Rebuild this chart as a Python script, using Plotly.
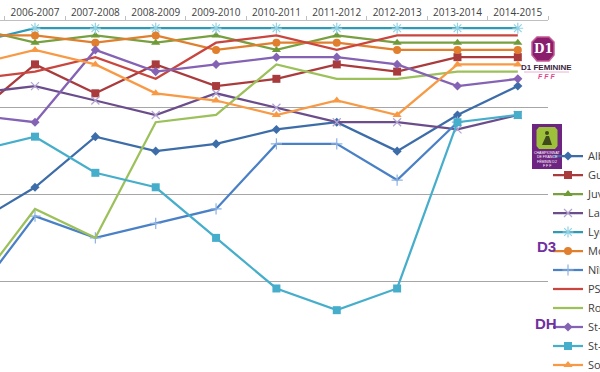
import plotly.graph_objects as go

# ---------------- data ----------------
seasons = ["2005-2006", "2006-2007", "2007-2008", "2008-2009", "2009-2010",
           "2010-2011", "2011-2012", "2012-2013", "2013-2014", "2014-2015"]

albi        = [28, 23, 16, 18, 17, 15, 14, 18, 13, 9]
guingamp    = [13, 6, 10, 6, 9, 8, 6, 7, 5, 5]
juvisy      = [1, 3, 2, 3, 2, 4, 2, 3, 3, 3]
la_roche    = [10, 9, 11, 13, 10, 12, 14, 14, 15, 13]
lyon        = [3, 1, 1, 1, 1, 1, 1, 1, 1, 1]
montpellier = [2, 2, 3, 2, 4, 3, 3, 4, 4, 4]
nimes       = [38, 27, 30, 28, 26, 17, 17, 22, 14, None]
psg         = [8, 7, 5, 8, 3, 2, 4, 2, 2, 2]
rodez       = [37, 26, 30, 14, 13, 6, 8, 8, 7, 7]
st_etienne  = [13, 14, 4, 7, 6, 5, 5, 6, 9, 8]
st_maur     = [18, 16, 21, 23, 30, 37, 40, 37, 14, 13]
soyaux      = [6, 4, 6, 10, 11, 13, 11, 13, 6, 6]

names = ["Albi", "Guingamp", "Juvisy", "La Roche-sur-Yon", "Lyon", "Montpellier",
         "Nîmes", "PSG", "Rodez", "St-Etienne", "St-Maur", "Soyaux"]
series = [albi, guingamp, juvisy, la_roche, lyon, montpellier,
          nimes, psg, rodez, st_etienne, st_maur, soyaux]

# ---------------- styles ----------------
styles = [
    dict(line="#3D6DA9", symbol="diamond", mcolor="#3D6DA9", size=7),
    dict(line="#A93B3D", symbol="square", mcolor="#A93B3D", size=8),
    dict(line="#78A040", symbol="triangle-up", mcolor="#6E9A38", size=8),
    dict(line="#6B4D8C", symbol="x-thin-open", mcolor="#B1A3D0", size=8),
    dict(line="#2F9AB6", symbol="asterisk-open", mcolor="#92D2E4", size=9),
    dict(line="#E07F2E", symbol="circle", mcolor="#E07F2E", size=8),
    dict(line="#4A80C6", symbol="cross-thin-open", mcolor="#8DB2E2", size=8),
    dict(line="#C9463F", symbol=None, mcolor=None, size=0),
    dict(line="#9CC15B", symbol=None, mcolor=None, size=0),
    dict(line="#8462B4", symbol="diamond", mcolor="#8462B4", size=7),
    dict(line="#46AECB", symbol="square", mcolor="#46AECB", size=8),
    dict(line="#F89A45", symbol="triangle-up", mcolor="#F89A45", size=8),
]

fig = go.Figure()
for name, vals, st in zip(names, series, styles):
    if st["symbol"] is None:
        fig.add_trace(go.Scatter(x=seasons, y=vals, name=name, mode="lines",
                                 line=dict(color=st["line"], width=2.25)))
    else:
        open_sym = st["symbol"].endswith("open")
        fig.add_trace(go.Scatter(
            x=seasons, y=vals, name=name, mode="lines+markers",
            line=dict(color=st["line"], width=2.25),
            marker=dict(symbol=st["symbol"], size=st["size"], color=st["mcolor"],
                        line=dict(color=st["mcolor"], width=1.2 if open_sym else 0))))

W, H = 600, 372
ML, MR, MT, MB = 0, 52, 21, 4
PW, PH = W - ML - MR, H - MT - MB


def px(x):
    return (x - ML) / PW


def py(y):
    return 1 - (y - MT) / PH


shapes = []
annotations = []

# D1 logo
pts = [(537, 37), (549, 37), (554, 42), (554, 55), (549, 61), (537, 61), (532, 55), (532, 42)]
path = "M " + " L ".join(f"{px(a):.5f},{py(b):.5f}" for a, b in pts) + " Z"
shapes.append(dict(type="path", xref="paper", yref="paper", path=path,
                   fillcolor="#8A1D6C", line=dict(color="#C45A95", width=1.5), layer="above"))
annotations.append(dict(x=px(543), y=py(49), xref="paper", yref="paper", text="<b>D1</b>",
                        showarrow=False, font=dict(family="DejaVu Serif", size=12, color="white"),
                        xanchor="center", yanchor="middle"))
annotations.append(dict(x=px(546), y=py(67.5), xref="paper", yref="paper", text="<b>D1 FEMININE</b>",
                        showarrow=False, font=dict(family="Liberation Sans Narrow, Liberation Sans", size=8, color="#3A2340"),
                        xanchor="center", yanchor="middle"))
shapes.append(dict(type="line", xref="paper", yref="paper", x0=px(524), x1=px(569), y0=py(72), y1=py(72),
                   line=dict(color="#E7A0C4", width=0.8), layer="above"))
annotations.append(dict(x=px(546), y=py(77), xref="paper", yref="paper", text="<i><b>F F F</b></i>",
                        showarrow=False, font=dict(family="Liberation Sans", size=7, color="#E0468A"),
                        xanchor="center", yanchor="middle"))

# D2 logo
shapes.append(dict(type="rect", xref="paper", yref="paper", x0=px(532), x1=px(562), y0=py(124), y1=py(169),
                   fillcolor="#6E2481", line=dict(width=0), layer="above"))
pts2 = [(539, 127), (555, 127), (557.5, 130), (557.5, 146), (555, 149), (539, 149), (536.5, 146), (536.5, 130)]
path2 = "M " + " L ".join(f"{px(a):.5f},{py(b):.5f}" for a, b in pts2) + " Z"
shapes.append(dict(type="path", xref="paper", yref="paper", path=path2,
                   fillcolor="#9DC13A", line=dict(width=0), layer="above"))
shapes.append(dict(type="circle", xref="paper", yref="paper", x0=px(545), x1=px(549), y0=py(131), y1=py(135),
                   fillcolor="#3E4A1E", line=dict(width=0), layer="above"))
shapes.append(dict(type="path", xref="paper", yref="paper",
                   path=f"M {px(546):.5f},{py(136):.5f} L {px(549):.5f},{py(136):.5f} L {px(552):.5f},{py(145):.5f} L {px(542):.5f},{py(145):.5f} Z",
                   fillcolor="#3E4A1E", line=dict(width=0), layer="above"))
for i, t in enumerate(["CHAMPIONNAT", "DE FRANCE", "FÉMININ D2", "F F F"]):
    annotations.append(dict(x=px(547), y=py(153 + i * 4.2), xref="paper", yref="paper", text=t,
                            showarrow=False, font=dict(family="Liberation Sans", size=3.5, color="white"),
                            xanchor="center", yanchor="middle"))

# D3 / DH labels
for t, yy in [("D3", 246), ("DH", 323)]:
    annotations.append(dict(x=px(546), y=py(yy), xref="paper", yref="paper", text=f"<b>{t}</b>",
                            showarrow=False, font=dict(family="Liberation Sans", size=15, color="#7030A0"),
                            xanchor="center", yanchor="middle"))

fig.update_layout(
    width=W, height=H,
    margin=dict(l=ML, r=MR, t=MT, b=MB, pad=0, autoexpand=False),
    paper_bgcolor="white", plot_bgcolor="white",
    showlegend=True,
    legend=dict(xref="container", yref="container", x=548 / W, y=1 - 141.5 / H,
                xanchor="left", yanchor="top", bgcolor="rgba(0,0,0,0)",
                font=dict(family="Open Sans", size=11, color="#404040"),
                itemwidth=30, tracegroupgap=0, maxheight=1.0),
    xaxis=dict(type="category", categoryorder="array", categoryarray=seasons,
               side="top", range=[0.42, 9.5], showgrid=False,
               showline=True, linecolor="#BFBFBF", linewidth=1,
               ticks="outside", tickson="boundaries", ticklen=4, tickcolor="#BFBFBF",
               tickfont=dict(family="Open Sans", size=10, color="#404040"), zeroline=False),
    yaxis=dict(range=[48, 0], dtick=12, tick0=0, showgrid=True, gridcolor="#A6A6A6", gridwidth=1,
               showticklabels=False, zeroline=False, showline=False, ticks=""),
    shapes=shapes, annotations=annotations,
)

fig.write_html("out.html",
               config={"displayModeBar": False},
               post_script="document.body.style.margin='0';document.body.style.padding='0';"
                           "document.body.style.overflow='hidden';")
